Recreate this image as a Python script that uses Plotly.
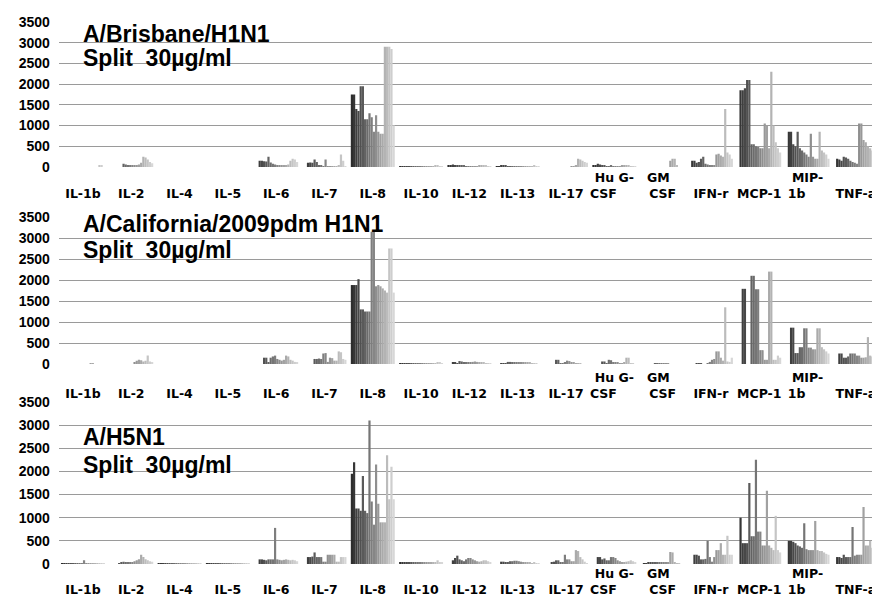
import plotly.graph_objects as go

categories = ["IL-1b", "IL-2", "IL-4", "IL-5", "IL-6", "IL-7", "IL-8", "IL-10", "IL-12",
              "IL-13", "IL-17", "Hu G-CSF", "GM CSF", "IFN-r", "MCP-1", "MIP-1b", "TNF-a"]

NB = "\u00a0"
tick_labels = [NB + "<br>IL-1b", NB + "<br>IL-2", NB + "<br>IL-4", NB + "<br>IL-5",
               NB + "<br>IL-6", NB + "<br>IL-7", NB + "<br>IL-8", NB + "<br>IL-10",
               NB + "<br>IL-12", NB + "<br>IL-13", NB + "<br>IL-17",
               "Hu G-<br>CSF" + NB * 5, "GM" + NB * 2 + "<br>CSF", NB + "<br>IFN-r",
               NB + "<br>MCP-1", "MIP-<br>1b" + NB * 5, NB + "<br>TNF-a"]

panel_titles = ["A/Brisbane/H1N1", "A/California/2009pdm H1N1", "A/H5N1"]
panel_subtitle = "Split" + NB * 2 + "30\u00b5g/ml"

y_ticks = [0, 500, 1000, 1500, 2000, 2500, 3000, 3500]

# each row: one cytokine, 20 samples (dark -> light)
brisbane = [
    [0, 0, 0, 0, 0, 0, 0, 0, 0, 0, 0, 0, 0, 0, 0, 0, 0, 40, 30, 0],
    [0, 0, 0, 0, 0, 0, 80, 60, 30, 30, 30, 40, 50, 60, 100, 250, 230, 180, 120, 90],
    [0] * 20,
    [0] * 20,
    [0, 0, 150, 150, 140, 130, 250, 110, 80, 60, 50, 40, 40, 30, 30, 60, 150, 200, 180, 120],
    [0, 0, 100, 110, 100, 180, 120, 30, 30, 20, 180, 20, 20, 10, 10, 20, 50, 300, 150, 20],
    [1750, 1750, 1400, 1350, 1950, 1950, 1150, 1150, 1300, 1200, 850, 1250, 850, 800, 800, 2900, 2900, 2900, 2850, 1000],
    [20, 20, 20, 20, 20, 15, 10, 10, 10, 10, 10, 10, 10, 10, 20, 20, 30, 30, 20, 10],
    [30, 40, 60, 50, 40, 30, 30, 30, 20, 20, 20, 20, 20, 20, 30, 40, 50, 30, 20, 10],
    [20, 20, 30, 30, 30, 20, 20, 15, 10, 10, 10, 10, 10, 10, 10, 20, 20, 30, 20, 10],
    [0, 0, 0, 0, 0, 0, 0, 0, 0, 0, 0, 0, 10, 20, 50, 200, 180, 150, 120, 100],
    [30, 50, 80, 60, 40, 30, 20, 20, 30, 20, 20, 20, 20, 30, 40, 50, 30, 20, 10, 10],
    [0, 0, 0, 0, 0, 0, 0, 0, 0, 0, 0, 0, 0, 150, 200, 200, 50, 0, 0, 0],
    [0, 150, 150, 100, 120, 200, 250, 80, 60, 50, 40, 30, 300, 320, 280, 250, 1400, 350, 300, 200],
    [0, 1850, 1850, 1900, 2100, 2100, 550, 550, 500, 480, 450, 450, 1050, 1000, 450, 2300, 1000, 600, 450, 350],
    [0, 850, 850, 550, 500, 850, 450, 400, 350, 300, 250, 800, 250, 200, 200, 850, 400, 350, 300, 200],
    [0, 200, 180, 150, 250, 230, 200, 150, 120, 100, 80, 1050, 1050, 650, 600, 500, 450, 400, 300, 200],
]

california = [
    [0, 0, 0, 0, 0, 0, 0, 0, 0, 0, 0, 0, 0, 20, 20, 0, 0, 0, 0, 0],
    [0, 0, 0, 0, 0, 0, 0, 0, 0, 0, 0, 50, 80, 100, 90, 60, 80, 200, 60, 40],
    [0] * 20,
    [0] * 20,
    [0, 0, 0, 0, 150, 150, 40, 150, 180, 200, 120, 100, 80, 100, 200, 180, 100, 80, 50, 30],
    [0, 0, 0, 0, 0, 120, 120, 130, 120, 250, 260, 50, 150, 140, 80, 80, 300, 280, 120, 100],
    [1880, 1880, 1880, 2020, 1300, 1300, 1250, 1250, 1250, 3150, 3150, 1850, 1880, 1850, 1800, 1750, 1700, 2750, 2750, 1700],
    [20, 20, 20, 15, 15, 15, 10, 10, 10, 10, 10, 10, 10, 10, 10, 10, 20, 30, 30, 20],
    [0, 0, 30, 30, 20, 70, 60, 30, 30, 40, 40, 50, 60, 50, 40, 30, 30, 20, 20, 10],
    [0, 0, 20, 20, 10, 50, 50, 30, 30, 30, 30, 30, 30, 30, 40, 40, 20, 10, 10, 0],
    [0, 0, 0, 0, 0, 100, 100, 20, 20, 30, 80, 70, 40, 30, 20, 10, 10, 0, 0, 0],
    [0, 0, 0, 0, 60, 60, 20, 100, 90, 40, 30, 30, 20, 20, 40, 150, 150, 20, 10, 0],
    [0, 0, 0, 0, 0, 0, 10, 10, 10, 10, 10, 5, 5, 0, 0, 0, 0, 0, 0, 0],
    [0, 0, 0, 10, 10, 10, 0, 0, 20, 50, 100, 120, 300, 300, 150, 80, 1350, 60, 50, 150],
    [0, 0, 1790, 1790, 0, 0, 2100, 2100, 1780, 1780, 330, 330, 100, 100, 2200, 2200, 100, 100, 200, 150],
    [0, 0, 865, 865, 260, 260, 400, 400, 850, 850, 390, 390, 350, 350, 850, 850, 400, 350, 300, 250],
    [0, 0, 250, 250, 150, 150, 180, 250, 250, 250, 200, 200, 150, 150, 160, 640, 200, 180, 150, 100],
]

h5n1 = [
    [20, 20, 20, 20, 20, 20, 20, 20, 20, 20, 80, 20, 20, 20, 20, 15, 15, 10, 10, 10],
    [0, 0, 0, 0, 20, 30, 50, 30, 30, 40, 30, 60, 80, 100, 200, 150, 100, 80, 60, 50],
    [20, 20, 20, 20, 20, 20, 20, 20, 20, 20, 15, 15, 15, 20, 20, 20, 10, 10, 10, 10],
    [10, 10, 10, 10, 15, 15, 20, 20, 20, 20, 20, 20, 20, 15, 15, 15, 15, 15, 10, 10],
    [0, 0, 100, 100, 90, 80, 100, 100, 100, 780, 100, 90, 80, 90, 100, 90, 80, 90, 80, 60],
    [0, 0, 150, 150, 160, 250, 150, 150, 150, 50, 50, 200, 200, 200, 200, 50, 50, 150, 150, 150],
    [1950, 2200, 1200, 1200, 1150, 1900, 1150, 1100, 3100, 1350, 850, 2150, 1300, 900, 900, 900, 2350, 1400, 2100, 1400],
    [30, 30, 40, 30, 30, 40, 30, 30, 40, 40, 30, 30, 30, 40, 40, 30, 30, 80, 40, 30],
    [0, 0, 80, 130, 180, 100, 80, 60, 100, 130, 130, 100, 80, 60, 50, 60, 80, 80, 60, 40],
    [0, 0, 50, 50, 40, 40, 60, 60, 70, 70, 60, 50, 40, 30, 30, 30, 20, 30, 20, 10],
    [0, 0, 0, 30, 50, 80, 80, 30, 30, 200, 100, 100, 60, 60, 300, 280, 150, 100, 50, 20],
    [0, 0, 150, 150, 100, 120, 80, 80, 150, 150, 130, 80, 60, 40, 40, 50, 60, 80, 60, 40],
    [0, 20, 20, 30, 30, 30, 30, 40, 40, 30, 30, 30, 30, 260, 250, 30, 20, 10, 0, 0],
    [0, 0, 200, 200, 180, 100, 100, 110, 500, 150, 50, 150, 300, 300, 450, 200, 200, 610, 200, 200],
    [0, 1000, 450, 450, 450, 1750, 600, 600, 2250, 700, 700, 400, 400, 1580, 400, 350, 300, 1040, 300, 250],
    [0, 500, 500, 480, 450, 400, 380, 350, 880, 320, 300, 300, 300, 930, 300, 280, 280, 250, 220, 200],
    [0, 150, 150, 130, 200, 150, 150, 150, 800, 180, 200, 200, 200, 1230, 400, 400, 500, 350, 300, 250],
]

panels = [brisbane, california, h5n1]
n_series = len(brisbane[0])

# the page body keeps an 8px margin, so the figure is 8px smaller and all
# target screen positions are shifted by -8px
OFF = 8
W, H = 880 - OFF, 596 - OFF
# screen pixel layout of each panel: (top of 3500, baseline)
panel_px = [(22, 167), (217, 364), (402, 564)]
title_px = [(34, 58), (224, 250), (437, 465)]
label_standoff = [1, 4, 0]
x_left, x_right = 58.8 - OFF, 880 - OFF


def shade(j):
    v = int(round(45 + (215 - 45) * j / (n_series - 1)))
    return f"rgb({v},{v},{v})"


fig = go.Figure()
for p, data in enumerate(panels):
    sfx = "" if p == 0 else str(p + 1)
    for j in range(n_series):
        fig.add_trace(go.Bar(
            x=categories, y=[row[j] for row in data],
            marker=dict(color=shade(j), line=dict(width=0)),
            xaxis="x" + sfx, yaxis="y" + sfx, showlegend=False,
            name=f"Sample {j + 1}",
        ))

layout = dict(
    width=W, height=H, margin=dict(l=0, r=0, t=0, b=0, autoexpand=False),
    paper_bgcolor="white", plot_bgcolor="white",
    barmode="group", bargap=0.09, bargroupgap=0,
    font=dict(family="Liberation Sans, Arial, sans-serif", color="black"),
    annotations=[],
)
x_tick_font = dict(family="DejaVu Sans, sans-serif", size=12.5, color="black", weight="bold")
y_tick_font = dict(family="Liberation Sans, Arial, sans-serif", size=14, color="black", weight="bold")
for p in range(3):
    sfx = "" if p == 0 else str(p + 1)
    top, base = panel_px[p][0] - OFF, panel_px[p][1] - OFF
    layout["xaxis" + sfx] = dict(
        domain=[x_left / W, min(x_right / W, 1.0)], anchor="y" + sfx, automargin=False,
        tickmode="array", tickvals=categories, ticktext=tick_labels,
        tickfont=x_tick_font, showgrid=False, showline=False, ticks="",
        ticklabelstandoff=label_standoff[p], fixedrange=True,
    )
    layout["yaxis" + sfx] = dict(
        domain=[1 - base / H, 1 - top / H], anchor="x" + sfx, automargin=False,
        range=[0, 3500], tickmode="array", tickvals=y_ticks,
        ticktext=[str(v) for v in y_ticks], tickfont=y_tick_font,
        showgrid=True, gridcolor="#9a9a9a", gridwidth=1, zeroline=False,
        showline=False, ticks="", ticklabelstandoff=8, fixedrange=True,
    )
    t1, t2 = title_px[p]
    for text, yp in ((panel_titles[p], t1), (panel_subtitle, t2)):
        layout["annotations"].append(dict(
            text="<b>" + text + "</b>", xref="paper", yref="paper",
            x=(81 - OFF) / W, y=1 - (yp - OFF) / H, xanchor="left", yanchor="middle",
            showarrow=False, font=dict(size=23, color="black",
                                       family="Liberation Sans, Arial, sans-serif"),
        ))

fig.update_layout(**layout)
fig.write_html("out.html")
